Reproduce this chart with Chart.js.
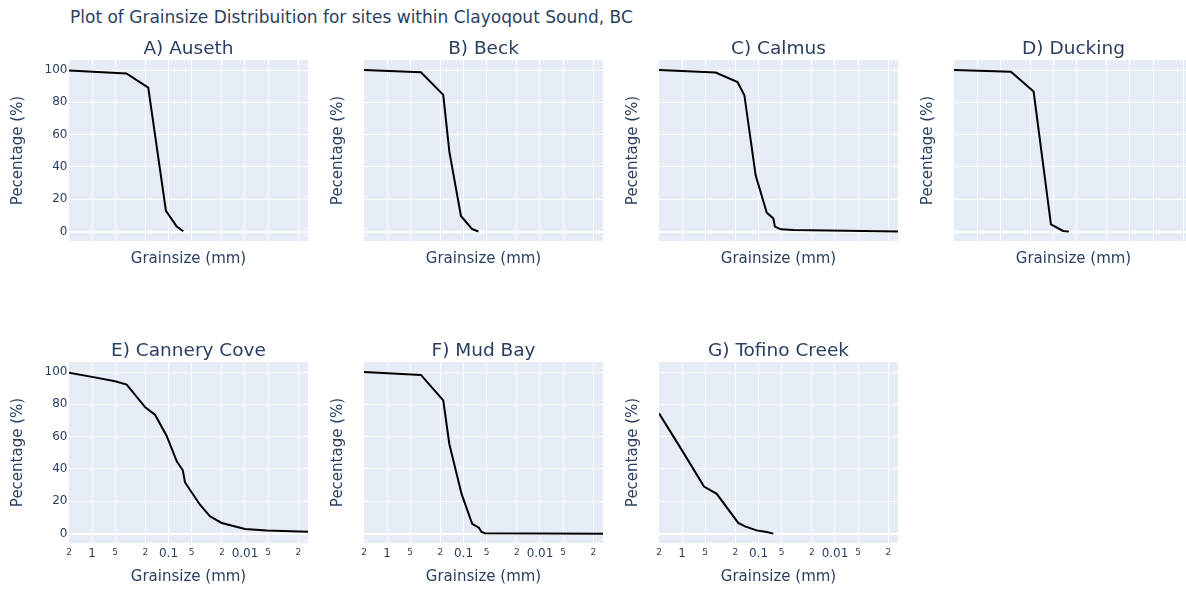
<!DOCTYPE html>
<html>
<head>
<meta charset="utf-8">
<script src="https://cdn.jsdelivr.net/npm/chart.js@4.4.1/dist/chart.umd.min.js"></script>
<style>
  body { margin: 0; width: 1186px; height: 590px; overflow: hidden; background: #fff; position: relative; }
  #title { position: absolute; left: 70px; top: 9px; font: 17px/17px 'DejaVu Sans'; color: #2a3f5f; white-space: nowrap; }
  canvas { position: absolute; }
</style>
</head>
<body>
<div id="title">Plot of Grainsize Distribuition for sites within Clayoqout Sound, BC</div>
<script>
// tick values / labels (x is log, reversed)
const xTickVals = [2, 1, 0.5, 0.2, 0.1, 0.05, 0.02, 0.01, 0.005, 0.002];
const xTickLabels = ['2', '1', '5', '2', '0.1', '5', '2', '0.01', '5', '2'];
const yTickVals = [0, 20, 40, 60, 80, 100];

// grainsize (mm) and cumulative percentage for each site
const ausethSize = [2, 0.355, 0.184, 0.108, 0.078, 0.064];
const ausethPct = [99.7, 97.9, 89.1, 12.8, 3.1, 0.2];

const beckSize = [2, 0.36, 0.184, 0.153, 0.108, 0.077, 0.064];
const beckPct = [100, 98.6, 84.6, 49.3, 9.7, 1.6, 0.1];

const calmusSize = [2, 0.363, 0.188, 0.153, 0.109, 0.078, 0.064, 0.061, 0.051, 0.035, 0.0015];
const calmusPct = [100, 98.4, 92.6, 84.4, 34.8, 11.7, 8.2, 3.1, 1.4, 1.0, 0.1];

const duckingSize = [2, 0.36, 0.182, 0.108, 0.075, 0.063];
const duckingPct = [100, 99, 86.7, 4.5, 0.4, 0];

const canneryCoveSize = [2, 1, 0.5, 0.352, 0.2, 0.15, 0.106, 0.078, 0.065, 0.061, 0.0388, 0.0287, 0.0202, 0.01, 0.0052, 0.0015];
const canneryCovePct = [99.6, 97, 94.3, 92.2, 78, 73.6, 60.6, 44.7, 39.2, 31.8, 17.9, 10.7, 6.6, 2.9, 1.9, 1.2];

const mudBaySize = [2, 0.36, 0.184, 0.153, 0.106, 0.077, 0.063, 0.058, 0.0525, 0.0015];
const mudBayPct = [100, 98.2, 82.4, 55.3, 24.6, 6.1, 3.7, 1.0, 0.2, 0];

const tofinoCreekSize = [2, 1, 0.516, 0.352, 0.184, 0.15, 0.106, 0.078, 0.064];
const tofinoCreekPct = [74.4, 51.5, 29.1, 24.6, 6.6, 4.5, 2.0, 1.0, 0];

const panels = [
    { title: 'A) Auseth', size: ausethSize, pct: ausethPct, col: 0, row: 0 },
    { title: 'B) Beck', size: beckSize, pct: beckPct, col: 1, row: 0 },
    { title: 'C) Calmus', size: calmusSize, pct: calmusPct, col: 2, row: 0 },
    { title: 'D) Ducking', size: duckingSize, pct: duckingPct, col: 3, row: 0 },
    { title: 'E) Cannery Cove', size: canneryCoveSize, pct: canneryCovePct, col: 0, row: 1 },
    { title: 'F) Mud Bay', size: mudBaySize, pct: mudBayPct, col: 1, row: 1 },
    { title: 'G) Tofino Creek', size: tofinoCreekSize, pct: tofinoCreekPct, col: 2, row: 1 },
];

Chart.defaults.font.family = "'DejaVu Sans'";
Chart.defaults.color = '#2a3f5f';

const plotBg = {
    id: 'plotBg',
    beforeDraw(chart) {
        const { ctx, chartArea: a } = chart;
        ctx.save();
        ctx.fillStyle = '#E5ECF6';
        ctx.fillRect(a.left, a.top, a.right - a.left, a.bottom - a.top);
        ctx.restore();
    }
};

function activateChart(panel) {
    const plotW = 239, plotH = 181;
    const plotLeft = 69 + panel.col * 295;
    const plotTop = panel.row === 0 ? 60 : 362;
    const yWidth = panel.col === 0 ? 69 : 56;
    const xHeight = panel.row === 0 ? 30 : 44;
    const showX = panel.row === 1;
    const showY = panel.col === 0;

    const canvas = document.createElement('canvas');
    canvas.width = yWidth + plotW + 12;
    canvas.height = 20 + plotH + xHeight;
    canvas.style.left = (plotLeft - yWidth) + 'px';
    canvas.style.top = (plotTop - 20) + 'px';
    document.body.appendChild(canvas);

    const data = {
        datasets: [{
            data: panel.size.map((s, i) => ({ x: s, y: panel.pct[i] })),
            borderColor: '#000',
            borderWidth: 2,
            pointRadius: 0,
            tension: 0,
            fill: false
        }]
    };
    const config = {
        type: 'line',
        data: data,
        plugins: [plotBg],
        options: {
            responsive: false,
            animation: false,
            layout: { padding: { top: 0.25, right: 12, bottom: 0, left: 0 } },
            plugins: {
                legend: { display: false },
                tooltip: { enabled: false },
                title: {
                    display: true,
                    fullSize: false,
                    text: panel.title,
                    font: { size: 18.5, weight: 'normal', lineHeight: 1 },
                    padding: { top: 0, bottom: 1.25 },
                    color: '#2a3f5f'
                }
            },
            scales: {
                x: {
                    type: 'logarithmic',
                    reverse: true,
                    min: 0.0015,
                    max: 2,
                    border: { display: false },
                    grid: {
                        color: (c) => (c.tick && c.tick.value === 2) ? 'rgba(0,0,0,0)' : '#ffffff',
                        lineWidth: 1,
                        drawTicks: false
                    },
                    afterBuildTicks: (axis) => {
                        axis.ticks = xTickVals.map(v => ({ value: v }));
                    },
                    afterFit: (axis) => { axis.height = xHeight; },
                    ticks: {
                        display: showX,
                        autoSkip: false,
                        maxRotation: 0,
                        padding: 4,
                        color: '#2a3f5f',
                        font: (c) => {
                            const v = c.tick ? c.tick.value : 1;
                            const major = v === 1 || v === 0.1 || v === 0.01;
                            return { size: major ? 12 : 9 };
                        },
                        callback: (value, index) => xTickLabels[index]
                    },
                    title: {
                        display: true,
                        text: 'Grainsize (mm)',
                        font: { size: 15 },
                        padding: { top: 0, bottom: panel.row === 0 ? 3.2 : 0.8 },
                        color: '#2a3f5f'
                    }
                },
                y: {
                    min: -5.8,
                    max: 106.2,
                    border: { display: false },
                    grid: {
                        color: '#ffffff',
                        lineWidth: (c) => (c.tick && c.tick.value === 0) ? 2 : 1,
                        drawTicks: false
                    },
                    afterBuildTicks: (axis) => {
                        axis.ticks = yTickVals.map(v => ({ value: v }));
                    },
                    afterFit: (axis) => { axis.width = yWidth; },
                    ticks: {
                        display: showY,
                        padding: 1.5,
                        color: '#2a3f5f',
                        font: { size: 12 }
                    },
                    title: {
                        display: true,
                        text: 'Pecentage (%)',
                        font: { size: 15 },
                        padding: { top: showY ? 9.3 : 21.3, bottom: 0 },
                        color: '#2a3f5f'
                    }
                }
            }
        }
    };
    return new Chart(canvas, config);
}

panels.forEach(activateChart);
</script>
</body>
</html>
